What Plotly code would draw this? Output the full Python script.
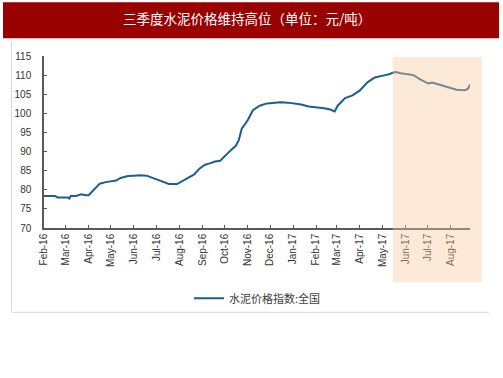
import plotly.graph_objects as go

dates = [
    "2016-02-01", "2016-02-08", "2016-02-16", "2016-02-19", "2016-02-26", "2016-03-04",
    "2016-03-06", "2016-03-08", "2016-03-15", "2016-03-22", "2016-03-28", "2016-04-01",
    "2016-04-08", "2016-04-16", "2016-04-24", "2016-05-01", "2016-05-08", "2016-05-14",
    "2016-05-24", "2016-06-01", "2016-06-09", "2016-06-18", "2016-07-01", "2016-07-10",
    "2016-07-18", "2016-07-29", "2016-08-07", "2016-08-14", "2016-08-21", "2016-08-28",
    "2016-09-04", "2016-09-11", "2016-09-18", "2016-09-25", "2016-10-02", "2016-10-09",
    "2016-10-16", "2016-10-20", "2016-10-24", "2016-11-01", "2016-11-08", "2016-11-17",
    "2016-11-27", "2016-12-06", "2016-12-15", "2016-12-25", "2017-01-03", "2017-01-12",
    "2017-01-22", "2017-02-01", "2017-02-12", "2017-02-20", "2017-02-26", "2017-03-02",
    "2017-03-07", "2017-03-12", "2017-03-22", "2017-04-01", "2017-04-11", "2017-04-21",
    "2017-05-05", "2017-05-10", "2017-05-15", "2017-05-19", "2017-05-26", "2017-06-05",
    "2017-06-12", "2017-06-21", "2017-07-02", "2017-07-07", "2017-07-15", "2017-07-26",
    "2017-08-02", "2017-08-09", "2017-08-15", "2017-08-20", "2017-08-24", "2017-08-27",
]
values = [
    78.4, 78.4, 78.4, 78.0, 78.0, 78.0,
    77.7, 78.4, 78.4, 78.8, 78.6, 78.6,
    80.0, 81.6, 82.0, 82.2, 82.4, 83.1,
    83.6, 83.7, 83.8, 83.7, 82.8, 82.2,
    81.5, 81.5, 82.5, 83.3, 84.0, 85.5,
    86.5, 86.9, 87.4, 87.6, 89.0, 90.3,
    91.5, 93.0, 96.0, 98.2, 100.8, 102.0,
    102.6, 102.8, 102.9, 102.8, 102.6, 102.3,
    101.8, 101.6, 101.3, 101.0, 100.5, 102.0,
    103.0, 104.0, 104.7, 106.0, 108.1, 109.4,
    110.0, 110.2, 110.6, 110.8, 110.5, 110.3,
    110.0, 108.9, 107.8, 108.06, 107.6, 107.1,
    106.7, 106.2, 106.1, 106.05, 106.4, 107.5,
]
tick_dates = [
    "2016-02-01", "2016-03-01", "2016-04-01", "2016-05-01", "2016-06-01", "2016-07-01",
    "2016-08-01", "2016-09-01", "2016-10-01", "2016-11-01", "2016-12-01", "2017-01-01",
    "2017-02-01", "2017-03-01", "2017-04-01", "2017-05-01", "2017-06-01", "2017-07-01",
    "2017-08-01",
]
tick_labels = [
    "Feb-16", "Mar-16", "Apr-16", "May-16", "Jun-16", "Jul-16", "Aug-16", "Sep-16",
    "Oct-16", "Nov-16", "Dec-16", "Jan-17", "Feb-17", "Mar-17", "Apr-17", "May-17",
    "Jun-17", "Jul-17", "Aug-17",
]
y_ticks = [70, 75, 80, 85, 90, 95, 100, 105, 110, 115]
series_name = "水泥价格指数:全国"
title_text = "三季度水泥价格维持高位（单位：元/吨）"

W, H = 503, 378
L, R, T, B = 44, 470, 55.7, 227.7
pw, ph = R - L, B - T


def px(x):
    return (x - L) / pw


def py(y):
    return (B - y) / ph


fig = go.Figure()
fig.add_trace(go.Scatter(
    x=dates, y=values, mode="lines", name=series_name,
    line=dict(color="#1A5F8E", width=2),
))

font = "Liberation Sans, Arial, Noto Sans CJK SC, sans-serif"
axis_col = "#595959"

fig.update_layout(
    width=W, height=H,
    margin=dict(l=L, r=W - R, t=T, b=H - B, autoexpand=False),
    paper_bgcolor="white", plot_bgcolor="white",
    font=dict(family=font, size=10, color="#333333"),
    showlegend=True,
    legend=dict(
        orientation="h", x=px(189), y=py(298), xanchor="left", yanchor="middle",
        font=dict(size=11, color="#404040", family="Noto Sans CJK SC, sans-serif"),
        bgcolor="rgba(0,0,0,0)",
    ),
    xaxis=dict(
        type="date", range=["2016-02-01", "2017-08-27"],
        tickmode="array", tickvals=tick_dates, ticktext=tick_labels,
        tickangle=-90, ticks="inside", ticklen=3, tickcolor=axis_col,
        showline=True, linecolor=axis_col, linewidth=1.5,
        showgrid=False, zeroline=False,
        tickfont=dict(size=10, color="#333333"),
    ),
    yaxis=dict(
        range=[70, 115], tickvals=y_ticks,
        ticks="inside", ticklen=3, tickcolor=axis_col,
        showline=True, linecolor=axis_col, linewidth=1.5,
        showgrid=False, zeroline=False,
        tickfont=dict(size=10, color="#333333"),
        ticklabelstandoff=9,
    ),
    shapes=[
        # title bar
        dict(type="rect", xref="paper", yref="paper",
             x0=px(3), x1=px(499), y0=py(38), y1=py(2),
             fillcolor="#990000", line=dict(width=0), layer="below"),
        # panel border left & bottom
        dict(type="line", xref="paper", yref="paper",
             x0=px(11.5), x1=px(11.5), y0=py(41), y1=py(312),
             line=dict(color="#D9D9D9", width=1)),
        dict(type="line", xref="paper", yref="paper",
             x0=px(11.5), x1=px(489), y0=py(312), y1=py(312),
             line=dict(color="#D9D9D9", width=1)),
        # highlighted period
        dict(type="rect", xref="paper", yref="paper",
             x0=px(392.7), x1=px(481.7), y0=py(282), y1=py(56.7),
             fillcolor="rgb(250,200,155)", opacity=0.4,
             line=dict(width=0), layer="above"),
    ],
    annotations=[
        dict(text=title_text, xref="paper", yref="paper",
             x=px(247), y=py(18), xanchor="center", yanchor="middle",
             showarrow=False,
             font=dict(size=13.5, color="white", family="Noto Sans CJK SC, sans-serif")),
    ],
)

fig.write_html(
    "out.html",
    config={"displayModeBar": False},
    post_script="document.body.style.margin='0';document.body.style.padding='0';",
)
